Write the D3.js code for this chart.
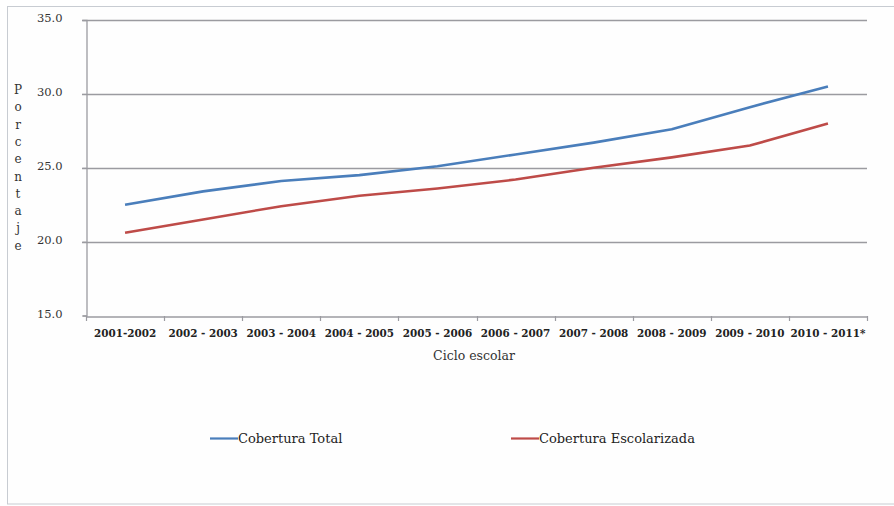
<!DOCTYPE html>
<html>
<head>
<meta charset="utf-8">
<script src="https://cdn.jsdelivr.net/npm/d3@7"></script>
<style>
  html, body { margin: 0; padding: 0; background: #ffffff; }
  svg { display: block; }
</style>
</head>
<body>
<svg id="chart" width="894" height="506"></svg>
<script>
const categories = ["2001-2002", "2002 - 2003", "2003 - 2004", "2004 - 2005", "2005 - 2006",
                    "2006 - 2007", "2007 - 2008", "2008 - 2009", "2009 - 2010", "2010 - 2011*"];
const coberturaTotal = [22.5, 23.4, 24.1, 24.5, 25.1, 25.9, 26.7, 27.6, 29.1, 30.5];
const coberturaEscolarizada = [20.6, 21.5, 22.4, 23.1, 23.6, 24.2, 25.0, 25.7, 26.5, 28.0];
const yTicks = [15, 20, 25, 30, 35];
const seriesNames = ["Cobertura Total", "Cobertura Escolarizada"];
const seriesColors = ["#4a7ebb", "#be4b48"];

(function () {
const svg = d3.select("#chart");
const serif = "'DejaVu Serif', 'Liberation Serif', serif";

// outer frame
svg.append("rect").attr("x", 7.5).attr("y", 6.5).attr("width", 900).attr("height", 497.5)
  .attr("fill", "#fefefe").attr("stroke", "#c8ccd2").attr("stroke-width", 1);

const pLeft = 86, pRight = 867, pTop = 20, pBottom = 315.5;
const x = d3.scaleBand().domain(categories).range([pLeft, pRight]);
const y = d3.scaleLinear().domain([15, 35]).range([pBottom, pTop]);

// gridlines
svg.append("g").selectAll("line").data(yTicks.filter(d => d > 15)).join("line")
  .attr("x1", pLeft - 4).attr("x2", pRight)
  .attr("y1", d => Math.round(y(d)) + 0.5).attr("y2", d => Math.round(y(d)) + 0.5)
  .attr("stroke", "#9b9ba0").attr("stroke-width", 1.3);

// y axis
const yAxis = svg.append("g").attr("transform", `translate(${pLeft + 0.5},0)`)
  .call(d3.axisLeft(y).tickValues(yTicks).tickFormat(d3.format(".1f")).tickSize(4).tickPadding(20));
yAxis.select(".domain").attr("stroke", "#9b9ba0").attr("stroke-width", 1.3);
yAxis.selectAll(".tick line").attr("stroke", "#9b9ba0");
yAxis.selectAll("text").attr("font-family", serif).attr("font-size", 11.5).attr("fill", "#333")
  .attr("dy", "0.15em");

// x axis
const xAxis = svg.append("g").attr("transform", `translate(0,${Math.round(pBottom) + 0.5})`)
  .call(d3.axisBottom(x).tickSize(0).tickPadding(13));
xAxis.select(".domain").attr("stroke", "#9b9ba0").attr("stroke-width", 1.3);
xAxis.selectAll("text").attr("font-family", serif).attr("font-size", 10.4)
  .attr("font-weight", "bold").attr("fill", "#222");
// category boundary ticks
const bounds = categories.map(c => x(c)).concat([pRight]);
svg.append("g").selectAll("line").data(bounds).join("line")
  .attr("x1", d => Math.round(d) + 0.5).attr("x2", d => Math.round(d) + 0.5)
  .attr("y1", Math.round(pBottom)).attr("y2", Math.round(pBottom) + 5)
  .attr("stroke", "#9b9ba0").attr("stroke-width", 1.2);

// lines
const line = d3.line()
  .x((d, i) => x(categories[i]) + x.bandwidth() / 2)
  .y(d => y(d));
[coberturaTotal, coberturaEscolarizada].forEach((s, k) => {
  svg.append("path").datum(s).attr("d", line)
    .attr("fill", "none").attr("stroke", seriesColors[k]).attr("stroke-width", 2.6)
    .attr("stroke-linejoin", "round");
});

// axis titles
svg.append("text").attr("x", 474).attr("y", 360)
  .attr("text-anchor", "middle").attr("font-family", serif).attr("font-size", 12.5)
  .attr("fill", "#333").text("Ciclo escolar");

const yTitle = "Porcentaje".split("");
svg.append("g").selectAll("text").data(yTitle).join("text")
  .attr("x", 18).attr("y", (d, i) => 94 + i * 17.3)
  .attr("text-anchor", "middle").attr("font-family", serif).attr("font-size", 12)
  .attr("fill", "#333").text(d => d);

// legend
const legendX = [210, 511];
seriesNames.forEach((n, k) => {
  svg.append("line").attr("x1", legendX[k]).attr("x2", legendX[k] + 28)
    .attr("y1", 438.5).attr("y2", 438.5).attr("stroke", seriesColors[k]).attr("stroke-width", 2.2);
  svg.append("text").attr("x", legendX[k] + 28).attr("y", 443)
    .attr("font-family", serif).attr("font-size", 13).attr("fill", "#222").text(n);
});
})();
</script>
</body>
</html>
